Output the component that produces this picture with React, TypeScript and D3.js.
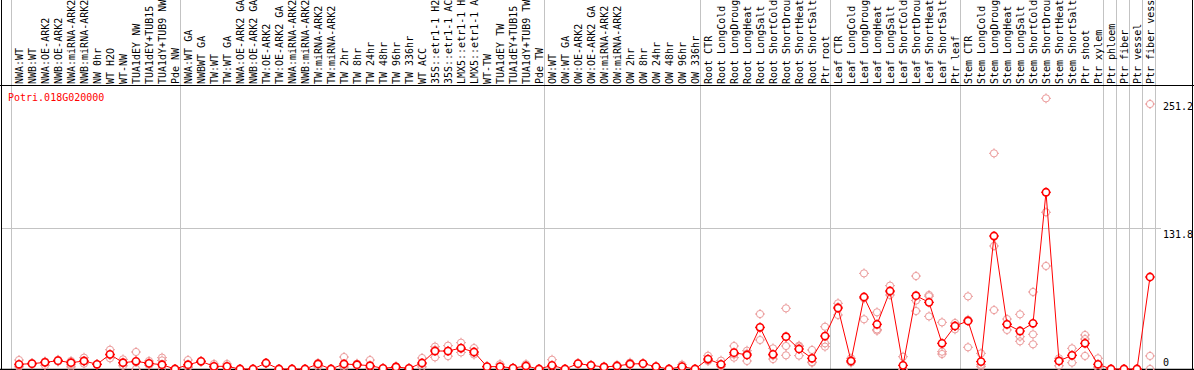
import React from 'react';
import * as d3 from 'd3';

const GENE = 'Potri.018G020000';

const SAMPLES = [
  'NWA:WT', 'NWB:WT', 'NWA:OE-ARK2', 'NWB:OE-ARK2', 'NWA:miRNA-ARK2', 'NWB:miRNA-ARK2',
  'NW 0hr', 'WT H2O', 'WT-NW', 'TUA1dEY NW', 'TUA1dEY+TUB15 NW', 'TUA1dY+TUB9 NW', 'Pde NW',
  'NWA:WT GA', 'NWBWT GA', 'TW:WT', 'TW:WT GA', 'NWA:OE-ARK2 GA', 'NWB:OE-ARK2 GA',
  'TW:OE-ARK2', 'TW:OE-ARK2 GA', 'NWA:miRNA-ARK2 GA', 'NWB:miRNA-ARK2 GA', 'TW:miRNA-ARK2',
  'TW:miRNA-ARK2 GA', 'TW 2hr', 'TW 8hr', 'TW 24hr', 'TW 48hr', 'TW 96hr', 'TW 336hr',
  'WT ACC', '35S::etr1-1 H2O', '35S::etr1-1 ACC', 'LMX5::etr1-1 H2O', 'LMX5::etr1-1 ACC',
  'WT-TW', 'TUA1dEY TW', 'TUA1dEY+TUB15 TW', 'TUA1dY+TUB9 TW', 'Pde TW',
  'OW:WT', 'OW:WT GA', 'OW:OE-ARK2', 'OW:OE-ARK2 GA', 'OW:miRNA-ARK2', 'OW:miRNA-ARK2 GA',
  'OW 2hr', 'OW 8hr', 'OW 24hr', 'OW 48hr', 'OW 96hr', 'OW 336hr',
  'Root CTR', 'Root LongCold', 'Root LongDrought', 'Root LongHeat', 'Root LongSalt',
  'Root ShortCold', 'Root ShortDrought', 'Root ShortHeat', 'Root ShortSalt', 'Ptr root',
  'Leaf CTR', 'Leaf LongCold', 'Leaf LongDrought', 'Leaf LongHeat', 'Leaf LongSalt',
  'Leaf ShortCold', 'Leaf ShortDrought', 'Leaf ShortHeat', 'Leaf ShortSalt', 'Ptr leaf',
  'Stem CTR', 'Stem LongCold', 'Stem LongDrought', 'Stem LongHeat', 'Stem LongSalt',
  'Stem ShortCold', 'Stem ShortDrought', 'Stem ShortHeat', 'Stem ShortSalt', 'Ptr shoot',
  'Ptr xylem', 'Ptr phloem', 'Ptr fiber', 'Ptr vessel', 'Ptr fiber vessel',
];

const MEANS = [
  4.4, 5.0, 6.2, 7.8, 5.9, 7.5, 4.4, 13.7, 5.9, 7.2, 5.3, 4.0, 0,
  4.0, 7.2, 2.5, 2.5, 0, 0, 5.6, 0, 0, 0, 4.7, 0, 4.7, 4.0, 3.1, 0.6, 1.9, 0.6,
  5.6, 16.8, 16.8, 19.6, 15.9, 2.2, 2.2, 0.9, 2.8, 0,
  3.4, 0, 5.0, 3.4, 1.9, 2.8, 4.7, 5.0, 2.2, 0, 2.2, 0,
  9.3, 4.4, 15.3, 13.1, 39.0, 13.7, 30.2, 18.7, 10.0, 30.8,
  57.0, 7.5, 67.3, 41.8, 72.9, 3.4, 68.5, 62.3, 24.0, 40.2,
  44.9, 6.9, 124.3, 41.8, 35.5, 42.7, 165.2, 7.5, 12.8, 24.0, 4.4,
  0, 0, 0, 86.0,
];

const REPLICATES = [
  [8.4, 2.8, 2.0], [5.6, 4.4], [7.0, 3.5, 6.5], [8.6, 7.0], [7.5, 4.0, 2.0], [10.6, 7.0, 5.0],
  [4.4, 4.2], [18.0, 13.0, 10.0], [9.0, 5.5, 3.0], [15.9, 6.5, 0], [7.5, 5.0, 3.5], [10.6, 8.0, 0.5],
  [0, 0],
  [8.4, 2.0, 1.5], [7.5, 6.9], [4.7, 1.5, 1.0], [4.7, 1.5, 1.0], [0, 0], [0, 0], [5.6, 5.0],
  [0, 0], [0, 0], [0, 0], [5.6, 4.5, 2.0], [0, 0], [11.2, 2.8, 1.0], [5.0, 3.5], [8.4, 1.0, 0.5],
  [0.8, 0.5], [2.5, 1.5], [0.8, 0.5], [10.3, 4.7, 2.0], [20.9, 18.0, 10.9], [21.8, 17.0, 12.0],
  [24.6, 19.0, 15.5], [19.6, 15.0, 13.5], [2.5, 2.0], [4.5, 1.2, 1.0], [1.0, 0.8], [4.5, 2.0, 2.0],
  [0, 0],
  [8.7, 1.0, 0.5], [0, 0], [5.5, 4.5], [3.8, 3.0], [2.2, 1.6], [3.8, 2.5, 2.0], [6.0, 4.2, 3.8],
  [5.3, 4.7], [2.5, 2.0], [0, 0], [4.0, 1.0, 1.5], [0, 0],
  [12.4, 8.2, 7.5], [7.8, 3.0, 2.5], [21.5, 13.5, 10.6], [17.1, 14.5, 7.5], [51.4, 38.5, 27.1],
  [19.3, 12.5, 9.3], [56.7, 21.5, 12.8], [21.8, 21.0, 12.5], [17.8, 6.5, 5.9], [39.5, 24.0, 20.9],
  [61.4, 58.0, 50.5], [10.0, 6.5, 6.0], [89.4, 66.0, 46.5], [53.0, 37.0, 35.8], [77.9, 72.0, 69.2],
  [11.5, 0, 0], [86.9, 64.0, 54.2], [69.2, 68.0, 49.2], [43.6, 16.2, 14.0], [43.0, 40.0, 37.1],
  [67.9, 46.0, 20.3], [14.6, 4.0, 2.2], [201.6, 115.0, 55.1], [46.7, 42.0, 36.5], [51.1, 30.2, 25.9],
  [72.0, 32.4, 23.1], [253.0, 146.5, 96.3], [10.0, 7.0, 3.0], [19.3, 12.8, 5.9], [31.8, 28.0, 12.2],
  [10.0, 2.0, 1.0],
  [0, 0], [0, 0], [0, 0], [247.7, 12.2, 0],
];

const GROUP_BREAKS = [0, 13, 41, 53, 63, 73, 84, 85, 86, 87, 88];
const Y_TICKS = [0, 131.8, 251.2];
const GRID_VALUES = [131.8];

const FONT = '"DejaVu Sans Mono", "Liberation Mono", monospace';
const RED = '#ff0000';
const PINK = '#eb9a9a';
const GRAY = '#c3c3c3';

function Marker({ cx, cy, color, sw }: { cx: number; cy: number; color: string; sw: number }) {
  const r = 3.6;
  const t = 1.4;
  return (
    <g stroke={color} strokeWidth={sw}>
      <circle cx={cx} cy={cy} r={r} fill="none" />
      <line x1={cx} y1={cy - r} x2={cx} y2={cy - r - t} strokeWidth={1} />
      <line x1={cx} y1={cy + r} x2={cx} y2={cy + r + t} strokeWidth={1} />
      <line x1={cx - r} y1={cy} x2={cx - r - t} y2={cy} strokeWidth={1} />
      <line x1={cx + r} y1={cy} x2={cx + r + t} y2={cy} strokeWidth={1} />
    </g>
  );
}

export default function App() {
  const W = 1194;
  const H = 370;
  const n = SAMPLES.length;
  const bottom = 369;
  const headerY = 85;
  const x = d3.scaleLinear().domain([0, n]).range([11, 11 + 13 * n]);
  const px = (i: number) => x(i) + 8;
  const y = d3.scaleLinear().domain([0, 131.8]).range([bottom, 228]);
  const plotRight = x(n);

  const linePath = d3
    .line<number>()
    .x((_, i) => px(i))
    .y((d) => y(d))(MEANS) as string;

  return (
    <svg
      width={W}
      height={H}
      style={{ position: 'absolute', left: 0, top: 0, background: '#fff' }}
      fontFamily={FONT}
      fontSize={10}
    >
      <rect x={0} y={0} width={W} height={H} fill="#fff" />
      {/* group separators */}
      {GROUP_BREAKS.map((k) => (
        <line key={'s' + k} x1={Math.round(x(k)) + 0.5} x2={Math.round(x(k)) + 0.5} y1={0} y2={bottom} stroke={GRAY} strokeWidth={1} />
      ))}
      {/* horizontal gridlines */}
      {GRID_VALUES.map((v) => (
        <line key={'g' + v} x1={1} x2={plotRight + 6} y1={Math.round(y(v)) + 0.5} y2={Math.round(y(v)) + 0.5} stroke={GRAY} strokeWidth={1} />
      ))}
      {/* frame */}
      <line x1={0} x2={W} y1={headerY + 0.5} y2={headerY + 0.5} stroke="#000" strokeWidth={1} />
      <line x1={0} x2={W} y1={bottom + 0.5} y2={bottom + 0.5} stroke="#000" strokeWidth={1.5} />
      <line x1={1.5} x2={1.5} y1={0} y2={H} stroke="#000" strokeWidth={1} />
      <line x1={W - 1.5} x2={W - 1.5} y1={0} y2={H} stroke="#000" strokeWidth={1} />

      {/* sample labels */}
      {SAMPLES.map((s, i) => (
        <text key={'l' + i} transform={`translate(${px(i) + 4},${headerY - 1}) rotate(-90)`} fill="#000">
          {s}
        </text>
      ))}

      {/* y tick labels */}
      {Y_TICKS.map((v) => (
        <text key={'t' + v} x={plotRight + 8} y={Math.min(y(v) + 2, 358) + 7.5} fill="#000">
          {v}
        </text>
      ))}

      {/* gene title */}
      <text x={8} y={101} fill={RED}>{GENE}</text>

      {/* replicates */}
      {REPLICATES.map((reps, i) =>
        reps.map((v, j) => <Marker key={`r${i}-${j}`} cx={px(i)} cy={y(v)} color={PINK} sw={1} />)
      )}

      {/* mean line */}
      <path d={linePath} fill="none" stroke={RED} strokeWidth={1} />
      {MEANS.map((v, i) => (
        <g key={'m' + i}>
          <circle cx={px(i)} cy={y(v)} r={3.6} fill="#fff" />
          <Marker cx={px(i)} cy={y(v)} color={RED} sw={1.6} />
        </g>
      ))}
    </svg>
  );
}
